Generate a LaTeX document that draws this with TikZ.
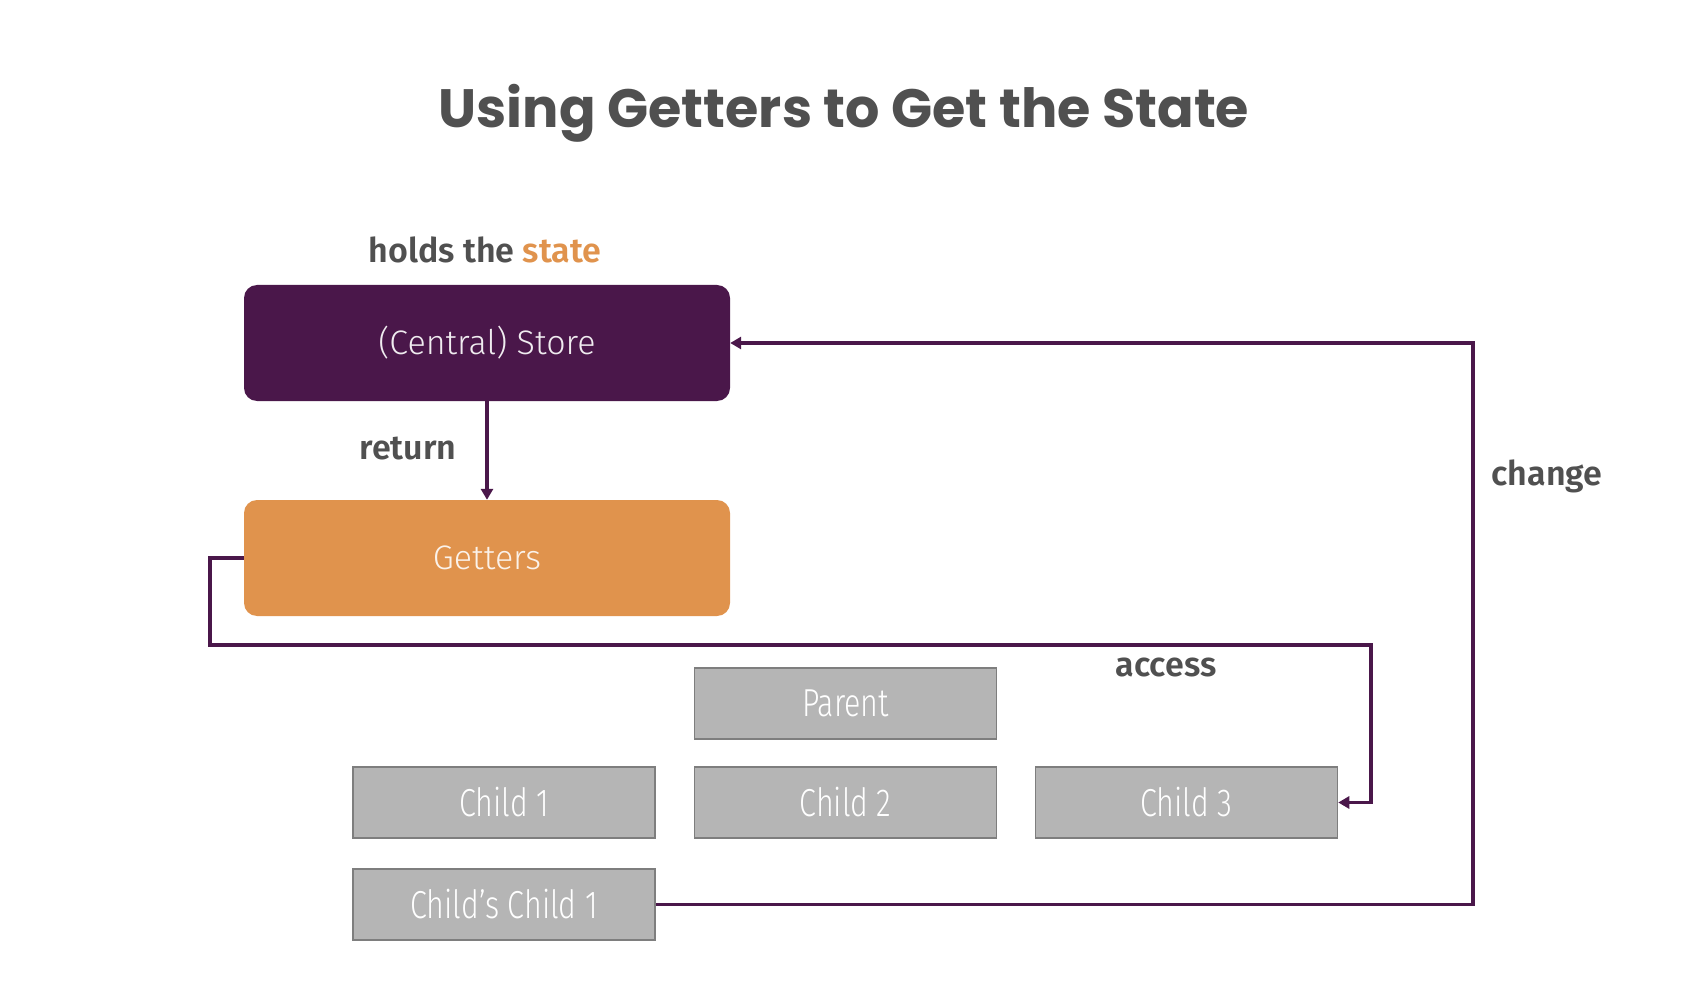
\documentclass[tikz,border=0pt]{standalone}
\usepackage{fontspec}
\usetikzlibrary{arrows.meta}
\setmainfont{Fira Sans}
\newfontfamily\titlefont{Poppins}[UprightFont=* Bold]
\newfontfamily\labelfont{Fira Sans}[UprightFont=* SemiBold]
\newfontfamily\boxfont{Fira Sans}[UprightFont=* Light]
\newfontfamily\condfont{Fira Sans}[UprightFont=* Light, FakeStretch=0.78]
\definecolor{vpurple}{HTML}{4A174A}
\definecolor{vorange}{HTML}{E0934D}
\definecolor{vgray}{HTML}{B5B5B5}
\definecolor{vgrayline}{HTML}{7E7E7E}
\definecolor{vtext}{HTML}{505050}
\tikzset{
  bigbox/.style={rounded corners=13pt, minimum width=486pt, minimum height=116pt, inner sep=0pt, font=\boxfont\fontsize{34}{40}\selectfont},
  graybox/.style={draw=vgrayline, line width=1.5pt, fill=vgray, minimum width=302pt, minimum height=71pt, inner sep=0pt, text=white, font=\condfont\fontsize{39}{46}\selectfont},
  lbl/.style={text=vtext, font=\labelfont\fontsize{34}{40}\selectfont},
  conn/.style={draw=vpurple, line width=3.5pt, -{Triangle[length=11pt,width=12pt]}}
}
\begin{document}
\begin{tikzpicture}[x=1pt,y=-1pt]
\useasboundingbox (0,0) rectangle (1682,984);
\node[text=vtext, font=\titlefont\fontsize{54}{64}\selectfont] (title) at (844,113) {Using Getters to Get the State};
\node[lbl] (holds) at (485,250) {holds the \textcolor{vorange}{state}};
\node[bigbox, fill=vpurple, text={white!92!vpurple}] (store) at (487,343) {(Central) Store};
\node[bigbox, fill=vorange, text={white!88!vorange}] (getters) at (487,558) {Getters};
\node[graybox] (parent) at (845.5,703.5) {Parent};
\node[graybox] (child1) at (504,802.5) {Child 1};
\node[graybox] (child2) at (845.5,802.5) {Child 2};
\node[graybox] (child3) at (1186.5,802.5) {Child 3};
\node[graybox] (cc1) at (504,904.5) {Child’s Child 1};
\node[lbl] (return) at (408,449) {return};
\node[lbl] (access) at (1166,667) {access};
\node[lbl] (change) at (1547,476) {change};
\coordinate (accL) at (210,645);
\coordinate (accR) at (1371,645);
\coordinate (chg) at (1473,620);
\draw[conn] (store.south) -- (getters.north);
\draw[conn] (getters.west) -| (accL) -- (accR) |- (child3.east);
\draw[conn] (cc1.east) -| (chg) |- (store.east);
\end{tikzpicture}
\end{document}
